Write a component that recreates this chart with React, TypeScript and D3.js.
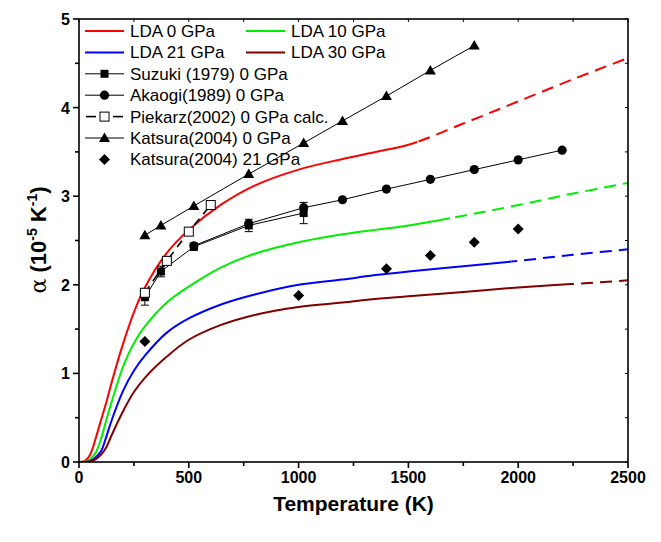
import React, { useEffect, useRef } from "react";
import * as d3 from "d3";

// LDA curves on a shared temperature grid
const ldaTemps = [0, 25, 50, 75, 100, 125, 150, 200, 250, 300, 400, 500, 650, 800, 1000, 1200, 1350, 1500, 1750, 2000, 2250, 2500];
const lda0 = [0, 0.01, 0.08, 0.26, 0.47, 0.68, 0.91, 1.33, 1.69, 1.97, 2.36, 2.62, 2.91, 3.12, 3.30, 3.42, 3.50, 3.58, 3.82, 4.07, 4.32, 4.56];
const lda10 = [0, 0, 0.03, 0.10, 0.26, 0.48, 0.69, 1.07, 1.34, 1.53, 1.80, 1.98, 2.20, 2.35, 2.48, 2.57, 2.62, 2.67, 2.78, 2.90, 3.03, 3.15];
const lda21 = [0, 0, 0.01, 0.05, 0.12, 0.29, 0.48, 0.80, 1.03, 1.20, 1.46, 1.62, 1.78, 1.89, 2.00, 2.06, 2.11, 2.15, 2.21, 2.27, 2.34, 2.40];
const lda30 = [0, 0, 0.005, 0.03, 0.08, 0.17, 0.31, 0.57, 0.79, 0.95, 1.19, 1.38, 1.55, 1.66, 1.75, 1.80, 1.84, 1.87, 1.92, 1.97, 2.01, 2.05];
const ldaNames = ["LDA 0 GPa", "LDA 10 GPa", "LDA 21 GPa", "LDA 30 GPa"];
const ldaColors = ["#ff0000", "#00ee00", "#0000ff", "#800000"];
const ldaSolidEnd = [1540, 1690, 1970, 2240];

// experiments
const suzukiT = [300, 373, 523, 773, 1023];
const suzukiA = [1.86, 2.15, 2.43, 2.67, 2.81];
const suzukiErr = [0.09, 0.06, 0.04, 0.07, 0.12];
const akaogiT = [523, 773, 1023, 1200, 1400, 1600, 1800, 2000, 2200];
const akaogiA = [2.44, 2.69, 2.87, 2.96, 3.08, 3.19, 3.30, 3.41, 3.52];
const piekarzT = [300, 400, 500, 600];
const piekarzA = [1.91, 2.27, 2.60, 2.90];
const katsura0T = [300, 373, 523, 773, 1023, 1200, 1400, 1600, 1800];
const katsura0A = [2.56, 2.67, 2.89, 3.25, 3.60, 3.85, 4.13, 4.42, 4.70];
const katsura21T = [300, 1000, 1400, 1600, 1800, 2000];
const katsura21A = [1.36, 1.88, 2.18, 2.33, 2.48, 2.63];

const xTicks = [0, 500, 1000, 1500, 2000, 2500];
const yTicks = [0, 1, 2, 3, 4, 5];

const font = "'Liberation Sans', Arial, sans-serif";

function marker(g: any, type: string, cx: number, cy: number) {
  if (type === "square") {
    g.append("rect").attr("x", cx - 4).attr("y", cy - 4).attr("width", 8).attr("height", 8).attr("fill", "#000");
  } else if (type === "circle") {
    g.append("circle").attr("cx", cx).attr("cy", cy).attr("r", 4.6).attr("fill", "#000");
  } else if (type === "open") {
    g.append("rect").attr("x", cx - 4.5).attr("y", cy - 4.5).attr("width", 9).attr("height", 9)
      .attr("fill", "#fff").attr("stroke", "#000").attr("stroke-width", 1);
  } else if (type === "triangle") {
    g.append("path").attr("d", `M${cx},${cy - 5.5}L${cx + 5.5},${cy + 4}L${cx - 5.5},${cy + 4}Z`).attr("fill", "#000");
  } else if (type === "diamond") {
    g.append("path").attr("d", `M${cx},${cy - 5.5}L${cx + 5.5},${cy}L${cx},${cy + 5.5}L${cx - 5.5},${cy}Z`).attr("fill", "#000");
  }
}

const App = () => {
  const ref = useRef<SVGSVGElement>(null);

  useEffect(() => {
    const svg = d3.select(ref.current);
    svg.selectAll("*").remove();

    const x = d3.scaleLinear().domain([0, 2500]).range([79, 628]);
    const y = d3.scaleLinear().domain([0, 5]).range([462, 19]);
    const [x0, x1] = x.range();
    const [y0, y1] = y.range();

    const defs = svg.append("defs");

    // LDA curves: solid then dashed beyond the last computed point
    const ldaValues = [lda0, lda10, lda21, lda30];
    const line = d3.line<number>()
      .x((d, i) => x(ldaTemps[i]))
      .y(d => y(d))
      .curve(d3.curveCatmullRom.alpha(0.5));

    ldaValues.forEach((vals, k) => {
      const xs = x(ldaSolidEnd[k]);
      defs.append("clipPath").attr("id", `solid${k}`)
        .append("rect").attr("x", x0).attr("y", y1).attr("width", xs - x0).attr("height", y0 - y1);
      defs.append("clipPath").attr("id", `dash${k}`)
        .append("rect").attr("x", xs).attr("y", y1).attr("width", x1 - xs).attr("height", y0 - y1);
      svg.append("path").attr("d", line(vals)).attr("fill", "none")
        .attr("stroke", ldaColors[k]).attr("stroke-width", 2)
        .attr("clip-path", `url(#solid${k})`);
      svg.append("path").attr("d", line(vals)).attr("fill", "none")
        .attr("stroke", ldaColors[k]).attr("stroke-width", 2)
        .attr("stroke-dasharray", "12,7")
        .attr("clip-path", `url(#dash${k})`);
    });

    const data = svg.append("g");
    const pts = (T: number[], A: number[]) => T.map((t, i) => [x(t), y(A[i])] as [number, number]);

    // connecting lines
    const straight = d3.line();
    data.append("path").attr("d", straight(pts(suzukiT, suzukiA))).attr("fill", "none").attr("stroke", "#000").attr("stroke-width", 1);
    data.append("path").attr("d", straight(pts(akaogiT, akaogiA))).attr("fill", "none").attr("stroke", "#000").attr("stroke-width", 1);
    data.append("path").attr("d", straight(pts(katsura0T, katsura0A))).attr("fill", "none").attr("stroke", "#000").attr("stroke-width", 1);
    data.append("path").attr("d", straight(pts(piekarzT, piekarzA))).attr("fill", "none").attr("stroke", "#000")
      .attr("stroke-width", 1.6).attr("stroke-dasharray", "8,6");

    // error bars
    suzukiT.forEach((t, i) => {
      const cx = x(t);
      const top = y(suzukiA[i] + suzukiErr[i]);
      const bot = y(suzukiA[i] - suzukiErr[i]);
      data.append("line").attr("x1", cx).attr("x2", cx).attr("y1", top).attr("y2", bot).attr("stroke", "#000");
      data.append("line").attr("x1", cx - 4).attr("x2", cx + 4).attr("y1", top).attr("y2", top).attr("stroke", "#000");
      data.append("line").attr("x1", cx - 4).attr("x2", cx + 4).attr("y1", bot).attr("y2", bot).attr("stroke", "#000");
    });

    pts(katsura0T, katsura0A).forEach(p => marker(data, "triangle", p[0], p[1]));
    pts(akaogiT, akaogiA).forEach(p => marker(data, "circle", p[0], p[1]));
    pts(suzukiT, suzukiA).forEach(p => marker(data, "square", p[0], p[1]));
    pts(piekarzT, piekarzA).forEach(p => marker(data, "open", p[0], p[1]));
    pts(katsura21T, katsura21A).forEach(p => marker(data, "diamond", p[0], p[1]));

    // frame and ticks
    const axis = svg.append("g").attr("stroke", "#000");
    axis.append("rect").attr("x", x0).attr("y", y1).attr("width", x1 - x0).attr("height", y0 - y1)
      .attr("fill", "none").attr("stroke-width", 1.6);
    d3.range(0, 2501, 250).forEach(t => {
      const major = t % 500 === 0;
      axis.append("line").attr("x1", x(t)).attr("x2", x(t)).attr("y1", y0).attr("y2", y0 + (major ? 6 : 4)).attr("stroke-width", 1.6);
      axis.append("line").attr("x1", x(t)).attr("x2", x(t)).attr("y1", y1).attr("y2", y1 + 3).attr("stroke-width", 1);
    });
    d3.range(0, 5.01, 0.5).forEach(a => {
      const major = Math.abs(a - Math.round(a)) < 1e-6;
      axis.append("line").attr("x1", x0).attr("x2", x0 - (major ? 6 : 4)).attr("y1", y(a)).attr("y2", y(a)).attr("stroke-width", 1.6);
      axis.append("line").attr("x1", x1).attr("x2", x1 - 3).attr("y1", y(a)).attr("y2", y(a)).attr("stroke-width", 1);
    });

    const labels = svg.append("g").attr("font-family", font).attr("font-weight", "bold").attr("font-size", 16).attr("fill", "#000");
    xTicks.forEach(t => {
      labels.append("text").attr("x", x(t)).attr("y", y0 + 21).attr("text-anchor", "middle").text(t);
    });
    yTicks.forEach(a => {
      labels.append("text").attr("x", x0 - 9).attr("y", y(a) + 6).attr("text-anchor", "end").text(a);
    });

    svg.append("text").attr("x", (x0 + x1) / 2).attr("y", 511).attr("text-anchor", "middle")
      .attr("font-family", font).attr("font-weight", "bold").attr("font-size", 21).text("Temperature (K)");

    const yt = svg.append("text").attr("transform", "translate(46,240) rotate(-90)").attr("text-anchor", "middle")
      .attr("font-family", font).attr("font-weight", "bold").attr("font-size", 22);
    yt.append("tspan").attr("font-weight", "normal").attr("font-family", "'DejaVu Serif', serif").text("\u03b1");
    yt.append("tspan").text(" (10");
    yt.append("tspan").attr("font-size", 14).attr("dy", -9).text("-5");
    yt.append("tspan").attr("dy", 9).text(" K");
    yt.append("tspan").attr("font-size", 14).attr("dy", -9).text("-1");
    yt.append("tspan").attr("dy", 9).text(")");

    // legend
    const leg = svg.append("g").attr("font-family", font).attr("font-size", 17).attr("fill", "#000");
    const rowY = (r: number) => 31 + r * 21.4;
    ldaNames.forEach((name, k) => {
      const col = k % 2;
      const row = Math.floor(k / 2);
      const lx = col === 0 ? 85 : 246;
      leg.append("line").attr("x1", lx).attr("x2", lx + 39).attr("y1", rowY(row)).attr("y2", rowY(row))
        .attr("stroke", ldaColors[k]).attr("stroke-width", 2);
      leg.append("text").attr("x", lx + 45).attr("y", rowY(row) + 6).text(name);
    });
    const expNames = ["Suzuki (1979) 0 GPa", "Akaogi(1989) 0 GPa", "Piekarz(2002) 0 GPa calc.", "Katsura(2004) 0 GPa", "Katsura(2004) 21 GPa"];
    const expMarks = ["square", "circle", "open", "triangle", "diamond"];
    expNames.forEach((name, k) => {
      const ly = rowY(k + 2);
      if (expMarks[k] !== "diamond") {
        const dashed = expMarks[k] === "open";
        leg.append("line").attr("x1", dashed ? 86 : 85).attr("x2", dashed ? 96 : 124).attr("y1", ly).attr("y2", ly)
          .attr("stroke", "#000").attr("stroke-width", dashed ? 1.6 : 1);
        if (dashed) {
          leg.append("line").attr("x1", 113).attr("x2", 123).attr("y1", ly).attr("y2", ly)
            .attr("stroke", "#000").attr("stroke-width", 1.6);
        }
      }
      marker(leg, expMarks[k], 104.5, ly);
      leg.append("text").attr("x", 130).attr("y", ly + 6).text(name);
    });
  }, []);

  return <svg ref={ref} width={661} height={542} style={{ position: "absolute", left: 0, top: 0, background: "#fff" }} />;
};

export default App;
